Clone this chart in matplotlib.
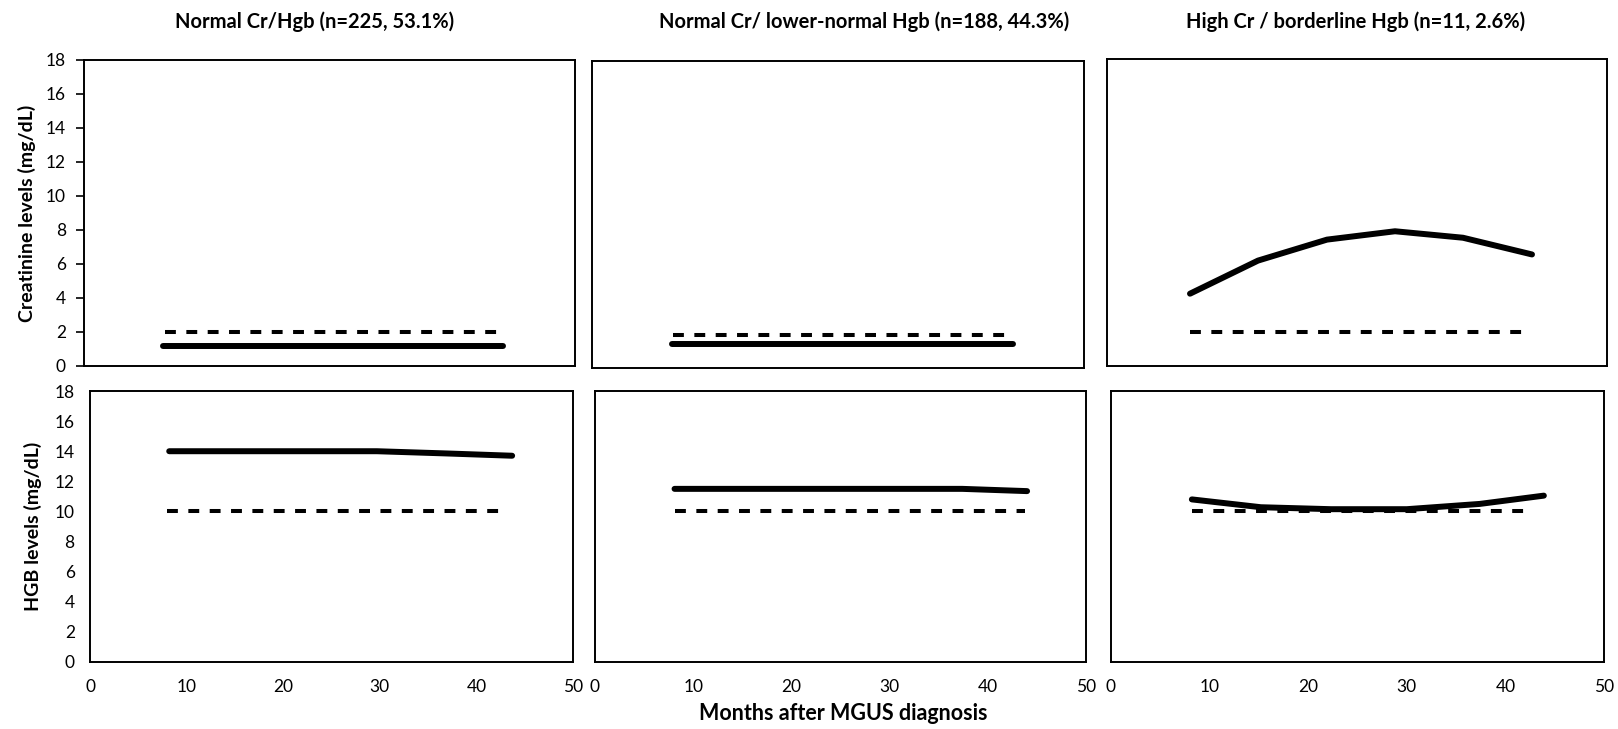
import matplotlib
matplotlib.use("Agg")
import matplotlib.pyplot as plt

plt.rcParams['font.family'] = ['Lato', 'DejaVu Sans']

# ---- data ----
titles = ["Normal Cr/Hgb (n=225, 53.1%)",
          "Normal Cr/ lower-normal Hgb (n=188, 44.3%)",
          "High Cr / borderline Hgb (n=11, 2.6%)"]

# creatinine, solid line (mean over time)
cr_months_1 = [8.0, 15.0, 22.0, 29.0, 36.0, 42.7]
cr_1 = [1.2, 1.2, 1.2, 1.2, 1.2, 1.2]
cr_months_2 = [8.1, 15.0, 22.0, 29.0, 36.0, 42.8]
cr_2 = [1.42, 1.42, 1.42, 1.42, 1.42, 1.42]
cr_months_3 = [8.3, 15.1, 22.0, 28.8, 35.6, 42.5]
cr_3 = [4.24, 6.18, 7.41, 7.90, 7.52, 6.54]

# hemoglobin, solid line
hgb_months_1 = [8.2, 15.2, 22.3, 29.7, 37.0, 43.7]
hgb_1 = [14.0, 14.0, 14.0, 14.0, 13.85, 13.7]
hgb_months_2 = [8.1, 15.2, 22.3, 30.0, 37.4, 44.0]
hgb_2 = [11.5, 11.5, 11.5, 11.5, 11.5, 11.35]
hgb_months_3 = [8.2, 15.2, 22.3, 30.0, 37.4, 43.9]
hgb_3 = [10.8, 10.28, 10.15, 10.15, 10.5, 11.05]

# dashed reference lines (start month, end month, level)
cr_ref_months = [[8.2, 42.3], [8.2, 42.4], [8.3, 42.0]]
cr_ref = [2.0, 1.95, 2.0]
hgb_ref_months = [[8.0, 42.6], [8.1, 43.8], [8.2, 41.9]]
hgb_ref = [10.05, 10.0, 10.05]

cr_series = [(cr_months_1, cr_1), (cr_months_2, cr_2), (cr_months_3, cr_3)]
hgb_series = [(hgb_months_1, hgb_1), (hgb_months_2, hgb_2), (hgb_months_3, hgb_3)]

# ---- layout (pixel boxes: x0, x1, y_top, y_bottom) ----
W, H = 1618, 729
top_boxes = [(84, 575, 60, 366), (592, 1084, 61, 368), (1107, 1607, 59, 366)]
bot_boxes = [(90, 573, 391, 662), (595, 1086, 391, 662), (1111, 1604, 391, 662)]

fig = plt.figure(figsize=(W / 100, H / 100), dpi=100)


def make_ax(box):
    x0, x1, yt, yb = box
    return fig.add_axes([x0 / W, (H - yb) / H, (x1 - x0) / W, (yb - yt) / H])


def style(ax):
    ax.set_xlim(0, 50)
    ax.set_ylim(0, 18)
    ax.set_yticks(range(0, 19, 2))
    ax.set_xticks(range(0, 51, 10))
    for s in ax.spines.values():
        s.set_linewidth(1.4)
        s.set_color('black')


solid_kw = dict(color='black', lw=4.3, solid_capstyle='round', solid_joinstyle='round')
dash_kw = dict(color='black', lw=2.9, dashes=(2.7, 2.6), dash_capstyle='butt')

for i in range(3):
    # creatinine row
    ax = make_ax(top_boxes[i])
    style(ax)
    mx, vals = cr_series[i]
    ax.plot(cr_ref_months[i], [cr_ref[i]] * 2, **dash_kw)
    ax.plot(mx, vals, **solid_kw)
    ax.tick_params(axis='x', length=0, labelbottom=False)
    if i == 0:
        ax.tick_params(axis='y', length=6, width=1.2, direction='out', pad=7, labelsize=12.5)
        ax.set_ylabel("Creatinine levels (mg/dL)", fontsize=14, fontweight='bold', labelpad=7)
    else:
        ax.tick_params(axis='y', length=0, labelleft=False)

    # hemoglobin row
    ax = make_ax(bot_boxes[i])
    style(ax)
    mx, vals = hgb_series[i]
    ax.plot(hgb_ref_months[i], [hgb_ref[i]] * 2, **dash_kw)
    ax.plot(mx, vals, **solid_kw)
    ax.tick_params(axis='x', length=0, pad=12, labelsize=12.5)
    if i == 0:
        ax.tick_params(axis='y', length=0, pad=11, labelsize=12.5)
        ax.set_ylabel("HGB levels (mg/dL)", fontsize=14, fontweight='bold', labelpad=9)
    else:
        ax.tick_params(axis='y', length=0, labelleft=False)

# column titles
title_x = [315, 864, 1356]
for tx, t in zip(title_x, titles):
    fig.text(tx / W, (H - 28) / H, t, ha='center', va='baseline',
             fontsize=14.5, fontweight='bold')

fig.text(843 / W, (H - 714) / H, "Months after MGUS diagnosis", ha='center',
         va='center', fontsize=15.5, fontweight='bold')

fig.savefig("out.png", dpi=100, facecolor='white')
